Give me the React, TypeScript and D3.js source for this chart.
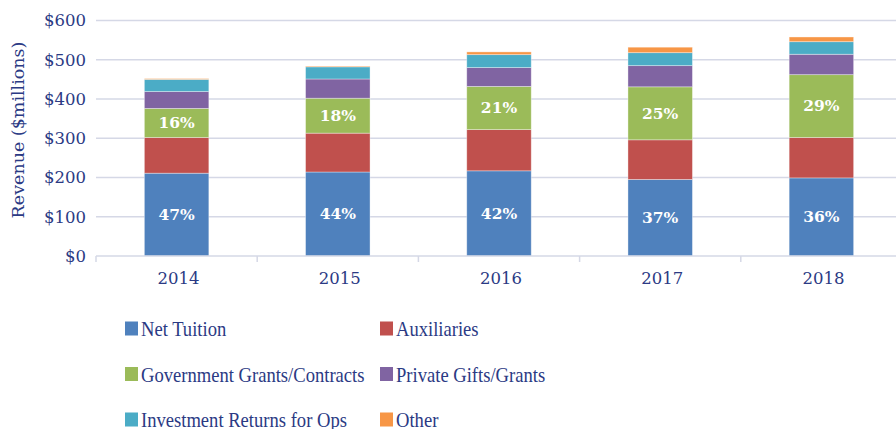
import React, { useEffect, useRef } from 'react';
import * as d3 from 'd3';

const years = ['2014', '2015', '2016', '2017', '2018'];
const seriesNames = [
  'Net Tuition',
  'Auxiliaries',
  'Government Grants/Contracts',
  'Private Gifts/Grants',
  'Investment Returns for Ops',
  'Other',
];
const netTuition = [211, 214, 217, 195, 199];
const auxiliaries = [91, 99, 105, 101, 103];
const govGrants = [74, 89, 110, 135, 160];
const privateGifts = [43, 49, 48, 54, 52];
const investReturns = [31, 31, 33, 33, 32];
const other = [2, 2, 7, 14, 12];
const colors = ['#4f81bd', '#c0504d', '#9bbb59', '#8064a2', '#4bacc6', '#f79646'];
const yTicks = [0, 100, 200, 300, 400, 500, 600];
// only these series get a % label
const labelled = ['Net Tuition', 'Government Grants/Contracts'];

const App = () => {
  const svgRef = useRef(null);

  useEffect(() => {
    document.body.style.margin = '0';
    const width = 896;
    const height = 429;
    const margin = { top: 20.5, right: -6, bottom: 173, left: 96 };
    const innerW = width - margin.left - margin.right;
    const innerH = height - margin.top - margin.bottom;
    const textColor = '#2b3a84';
    const gridColor = '#d5d8e6';

    const values = [netTuition, auxiliaries, govGrants, privateGifts, investReturns, other];
    const data = years.map((y, i) => {
      const row: any = { year: y };
      seriesNames.forEach((s, k) => { row[s] = values[k][i]; });
      row.total = d3.sum(values, v => v[i]);
      return row;
    });

    const svg = d3.select(svgRef.current)
      .attr('width', width)
      .attr('height', height);
    svg.selectAll('*').remove();

    const g = svg.append('g')
      .attr('transform', `translate(${margin.left},${margin.top})`);

    const xScale = d3.scaleBand()
      .domain(years)
      .range([0, innerW])
      .paddingInner(0.6)
      .paddingOuter(0.3);

    const yScale = d3.scaleLinear()
      .domain([0, 600])
      .range([innerH, 0]);

    // gridlines
    g.selectAll('.grid')
      .data(yTicks.filter(t => t > 0))
      .enter().append('line')
      .attr('x1', 0)
      .attr('x2', innerW)
      .attr('y1', d => yScale(d))
      .attr('y2', d => yScale(d))
      .attr('stroke', gridColor)
      .attr('stroke-width', 1.5);

    // y labels
    g.selectAll('.ylab')
      .data(yTicks)
      .enter().append('text')
      .attr('x', -10)
      .attr('y', d => yScale(d))
      .attr('dy', '0.35em')
      .attr('text-anchor', 'end')
      .attr('fill', textColor)
      .style('font-family', 'DejaVu Serif')
      .style('font-size', '16.5px')
      .text(d => `$${d}`);

    // stacked bars
    const stack = d3.stack().keys(seriesNames);
    const layers = stack(data);

    const layerG = g.selectAll('.layer')
      .data(layers)
      .enter().append('g')
      .attr('fill', (d, i) => colors[i]);

    layerG.selectAll('rect')
      .data(d => d)
      .enter().append('rect')
      .attr('x', d => xScale(d.data.year))
      .attr('width', xScale.bandwidth())
      .attr('y', d => yScale(d[1]))
      .attr('height', d => yScale(d[0]) - yScale(d[1]))
      .attr('stroke', 'rgba(255,255,255,0.45)')
      .attr('stroke-width', 0.8);

    // percent labels
    layers.filter(l => labelled.includes(l.key)).forEach(l => {
      g.selectAll(null)
        .data(l)
        .enter().append('text')
        .attr('x', d => xScale(d.data.year) + xScale.bandwidth() / 2)
        .attr('y', d => (yScale(d[0]) + yScale(d[1])) / 2)
        .attr('dy', '0.35em')
        .attr('text-anchor', 'middle')
        .attr('fill', '#ffffff')
        .style('font-family', 'DejaVu Serif')
        .style('font-weight', 'bold')
        .style('font-size', '15.5px')
        .text(d => `${Math.round(((d[1] - d[0]) / d.data.total) * 100)}%`);
    });

    // x axis line + ticks
    g.append('line')
      .attr('x1', 0)
      .attr('x2', innerW)
      .attr('y1', innerH)
      .attr('y2', innerH)
      .attr('stroke', gridColor)
      .attr('stroke-width', 1.5);

    const step = xScale.step();
    const bounds = d3.range(years.length + 1).map(i => xScale(years[0]) - step * 0.3 + i * step);
    g.selectAll('.xtick')
      .data(bounds)
      .enter().append('line')
      .attr('x1', d => d)
      .attr('x2', d => d)
      .attr('y1', innerH)
      .attr('y2', innerH + 6)
      .attr('stroke', gridColor)
      .attr('stroke-width', 1.5);

    g.selectAll('.xlab')
      .data(years)
      .enter().append('text')
      .attr('x', d => xScale(d) + xScale.bandwidth() / 2 + 2)
      .attr('y', innerH + 22.5)
      .attr('dy', '0.35em')
      .attr('text-anchor', 'middle')
      .attr('fill', textColor)
      .style('font-family', 'DejaVu Serif')
      .style('font-size', '16.5px')
      .text(d => d);

    // y axis title
    svg.append('text')
      .attr('transform', 'rotate(-90)')
      .attr('x', -130)
      .attr('y', 18)
      .attr('dy', '0.35em')
      .attr('text-anchor', 'middle')
      .attr('fill', textColor)
      .style('font-family', 'DejaVu Serif')
      .style('font-size', '17.5px')
      .text('Revenue ($millions)');

    // legend
    const legend = svg.append('g');
    seriesNames.forEach((s, i) => {
      const col = i % 2;
      const row = Math.floor(i / 2);
      const lx = 125 + col * 255;
      const ly = 329 + row * 45.5;
      legend.append('rect')
        .attr('x', lx)
        .attr('y', ly - 7.5)
        .attr('width', 13)
        .attr('height', 14)
        .attr('fill', colors[i]);
      legend.append('text')
        .attr('transform', `translate(${lx + 16},${ly}) scale(0.93,1)`)
        .attr('dy', '0.35em')
        .attr('fill', textColor)
        .style('font-family', 'Liberation Serif')
        .style('font-size', '20px')
        .text(s);
    });
  }, []);

  return <svg ref={svgRef} style={{ display: 'block' }}></svg>;
};

export default App;
